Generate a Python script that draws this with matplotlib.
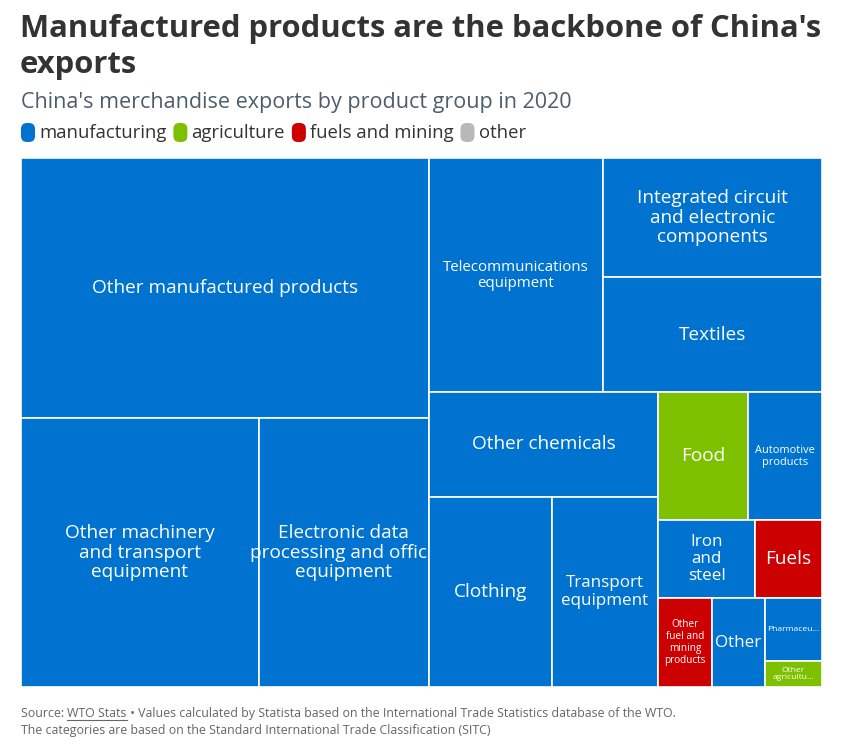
"""China's merchandise exports by product group in 2020 -- treemap."""

import matplotlib
matplotlib.use("Agg")  # headless backend
import matplotlib.pyplot as plt
from matplotlib.patches import Rectangle, FancyBboxPatch

plt.rcParams["font.family"] = ["Open Sans", "DejaVu Sans"]

# export values, billion US$, sorted descending
products = [
    "Other manufactured products", "Other machinery and transport equipment",
    "Electronic data processing and office equipment", "Telecommunications equipment",
    "Integrated circuit and electronic components", "Textiles", "Other chemicals",
    "Clothing", "Transport equipment", "Food", "Automotive products", "Iron and steel",
    "Fuels", "Other fuel and mining products", "Other", "Pharmaceuticals",
    "Other agricultural products",
]
values = [648, 391, 279, 249, 160, 154, 147, 143, 124, 70, 58, 46, 32, 29, 29, 22, 9]
groups = [
    "manufacturing", "manufacturing", "manufacturing", "manufacturing",
    "manufacturing", "manufacturing", "manufacturing", "manufacturing",
    "manufacturing", "agriculture", "manufacturing", "manufacturing",
    "fuels and mining", "fuels and mining", "manufacturing", "manufacturing",
    "agriculture",
]
# labels as they are wrapped / truncated in the cells
cell_labels = [
    "Other manufactured products", "Other machinery\nand transport\nequipment",
    "Electronic data\nprocessing and office\nequipment", "Telecommunications\nequipment",
    "Integrated circuit\nand electronic\ncomponents", "Textiles", "Other chemicals",
    "Clothing", "Transport\nequipment", "Food", "Automotive\nproducts", "Iron\nand\nsteel",
    "Fuels", "Other\nfuel and\nmining\nproducts", "Other", "Pharmaceu...",
    "Other\nagricultu...",
]
legend_groups = ["manufacturing", "agriculture", "fuels and mining", "other"]

# style
COLORS = {"manufacturing": "#0073d1", "agriculture": "#7cc000",
          "fuels and mining": "#cc0000", "other": "#b8b8b8"}
LABEL_PX = [19, 19, 19, 15, 19, 19, 19, 19, 17, 19, 11, 17, 19, 10, 17, 8.5, 8.5]
PX = 0.72  # pixel -> point at dpi 100
W_PX, H_PX = 842, 749
TM_LEFT, TM_TOP, TM_W, TM_H = 21, 158, 801, 529


def binary_layout(vals, x0, y0, x1, y1):
    """Binary treemap partition (same rule as d3.treemapBinary)."""
    sums = [0]
    for v in vals:
        sums.append(sums[-1] + v)
    boxes = [None] * len(vals)

    def part(i, j, value, x0, y0, x1, y1):
        if i >= j - 1:
            boxes[i] = (x0, y0, x1, y1)
            return
        offset = sums[i]
        target = value / 2 + offset
        k, hi = i + 1, j - 1
        while k < hi:
            mid = (k + hi) // 2
            if sums[mid] < target:
                k = mid + 1
            else:
                hi = mid
        if (target - sums[k - 1]) < (sums[k] - target) and i + 1 < k:
            k -= 1
        v_left = sums[k] - offset
        v_right = value - v_left
        if (x1 - x0) > (y1 - y0):
            xk = (x0 * v_right + x1 * v_left) / value
            part(i, k, v_left, x0, y0, xk, y1)
            part(k, j, v_right, xk, y0, x1, y1)
        else:
            yk = (y0 * v_right + y1 * v_left) / value
            part(i, k, v_left, x0, y0, x1, yk)
            part(k, j, v_right, x0, yk, x1, y1)

    part(0, len(vals), sums[-1], x0, y0, x1, y1)
    return boxes


fig = plt.figure(figsize=(W_PX / 100, H_PX / 100), dpi=100)
fig.patch.set_facecolor("white")

# headline block in pixel coords
ax_txt = fig.add_axes([0, 0, 1, 1])
ax_txt.set_xlim(0, W_PX)
ax_txt.set_ylim(H_PX, 0)
ax_txt.axis("off")

TITLE_PX = 31
ax_txt.text(20, 37, "Manufactured products are the backbone of China's",
            fontsize=TITLE_PX * PX, fontweight="bold", color="#333333", va="baseline",
            ha="left")
ax_txt.text(20, 73, "exports", fontsize=TITLE_PX * PX, fontweight="bold",
            color="#333333", va="baseline", ha="left")
ax_txt.text(21, 108, "China's merchandise exports by product group in 2020",
            fontsize=21.5 * PX, color="#4e5d6c", va="baseline", ha="left")

# legend
lx = 21
for g in legend_groups:
    ax_txt.add_patch(FancyBboxPatch((lx, 123), 14, 19,
                                    boxstyle="round,pad=0,rounding_size=6",
                                    fc=COLORS[g], ec="none"))
    t = ax_txt.text(lx + 18, 138, g, fontsize=18.5 * PX, color="#333333",
                    va="baseline", ha="left")
    fig.canvas.draw()
    bb = t.get_window_extent()
    lx = ax_txt.transData.inverted().transform((bb.x1, 0))[0] + 7

# treemap
ax = fig.add_axes([TM_LEFT / W_PX, 1 - (TM_TOP + TM_H) / H_PX, TM_W / W_PX, TM_H / H_PX])
ax.set_xlim(0, TM_W)
ax.set_ylim(TM_H, 0)
ax.axis("off")

boxes = binary_layout(values, 0, 0, TM_W, TM_H)
for (x0, y0, x1, y1), g, lab, fs in zip(boxes, groups, cell_labels, LABEL_PX):
    ax.add_patch(Rectangle((x0, y0), x1 - x0, y1 - y0, fc=COLORS[g],
                           ec="white", lw=1.2))
    t = ax.text((x0 + x1) / 2, (y0 + y1) / 2, lab, fontsize=fs * PX, color="white",
                ha="center", va="center", linespacing=1.1, clip_on=True)
    # text that runs past the right edge of its cell gets cut off
    clip = Rectangle((0, y0), x1 - 1, y1 - y0, transform=ax.transData)
    t.set_clip_path(clip)

# footer
FOOT_PX = 12.4
fy = 717
t1 = ax_txt.text(21, fy, "Source: ", fontsize=FOOT_PX * PX, color="#666666",
                 va="baseline", ha="left")
fig.canvas.draw()
inv = ax_txt.transData.inverted()
x_end = inv.transform((t1.get_window_extent().x1, 0))[0]
t2 = ax_txt.text(x_end, fy, "WTO Stats", fontsize=FOOT_PX * PX, color="#666666",
                 va="baseline", ha="left")
fig.canvas.draw()
x_end2 = inv.transform((t2.get_window_extent().x1, 0))[0]
ax_txt.plot([x_end, x_end2], [fy + 2.5, fy + 2.5], color="#666666", lw=0.8)
ax_txt.text(x_end2, fy, " \u2022 Values calculated by Statista based on the International "
            "Trade Statistics database of the WTO.", fontsize=FOOT_PX * PX,
            color="#666666", va="baseline", ha="left")
ax_txt.text(21, 734, "The categories are based on the Standard International Trade "
            "Classification (SITC)", fontsize=FOOT_PX * PX, color="#666666",
            va="baseline", ha="left")

fig.savefig("out.png", dpi=100)
